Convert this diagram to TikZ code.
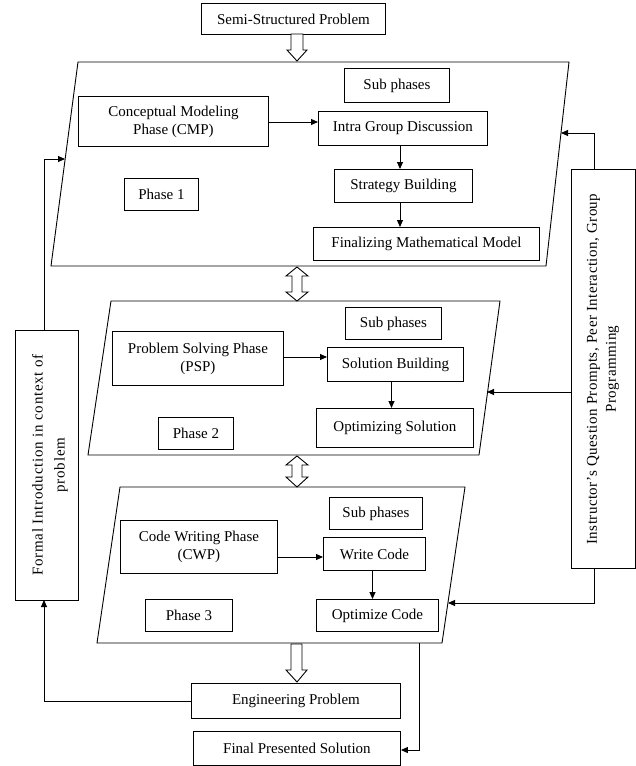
\documentclass[tikz,border=0pt]{standalone}
\usepackage{fontspec}
\setmainfont{Liberation Serif}
\usetikzlibrary{arrows.meta}
\begin{document}
\begin{tikzpicture}[x=1pt,y=-1pt,
  every node/.style={font=\fontsize{15}{18}\selectfont},
  box/.style={draw,line width=0.9pt,anchor=north west,align=center,inner sep=1pt},
  conn/.style={line width=0.9pt,-{Triangle[length=7pt,width=6pt]}},
  plain/.style={line width=0.9pt},
  para/.style={draw,line width=0.9pt},
  hollow/.style={draw,line width=0.9pt,fill=white}]
\useasboundingbox (0,0) rectangle (636,766);
% parallelograms
\draw[para] (78,62) -- (569,62) -- (546,266) -- (51,266) -- cycle;
\draw[para] (111,301) -- (500,301) -- (479,455) -- (88,455) -- cycle;
\draw[para] (120,487) -- (465,487) -- (442,643) -- (97,643) -- cycle;
\coordinate (p1L) at (65,159);
\coordinate (p1R) at (561,133);
\coordinate (p2R) at (487,392);
\coordinate (p3R) at (448,603);
\coordinate (p3B) at (419,643);
% boxes
\node[box,minimum width=184,minimum height=31] (semi) at (201,3) {Semi-Structured Problem};
\node[box,minimum width=105,minimum height=34] (sub1) at (344,68) {Sub phases};
\node[box,minimum width=190,minimum height=50] (cmp) at (78,96) {Conceptual Modeling\\Phase (CMP)};
\node[box,minimum width=169,minimum height=34] (intra) at (318,111) {Intra Group Discussion};
\node[box,minimum width=138,minimum height=33] (strat) at (334,169) {Strategy Building};
\node[box,minimum width=74,minimum height=32] (ph1) at (124,178) {Phase 1};
\node[box,minimum width=226,minimum height=33] (fin) at (313,227) {Finalizing Mathematical Model};
\node[box,minimum width=96,minimum height=32] (sub2) at (345,307) {Sub phases};
\node[box,minimum width=171,minimum height=54] (psp) at (112,331) {Problem Solving Phase\\(PSP)};
\node[box,minimum width=136,minimum height=34] (solb) at (327,347) {Solution Building};
\node[box,minimum width=157,minimum height=39] (opts) at (316,408) {Optimizing Solution};
\node[box,minimum width=75,minimum height=32] (ph2) at (158,417) {Phase 2};
\node[box,minimum width=93,minimum height=32] (sub3) at (329,497) {Sub phases};
\node[box,minimum width=157,minimum height=53] (cwp) at (120,520) {Code Writing Phase\\(CWP)};
\node[box,minimum width=102,minimum height=33] (wc) at (323,537) {Write Code};
\node[box,minimum width=122,minimum height=32] (oc) at (316,599) {Optimize Code};
\node[box,minimum width=87,minimum height=32] (ph3) at (145,599) {Phase 3};
\node[box,minimum width=209,minimum height=35] (eng) at (191,683) {Engineering Problem};
\node[box,minimum width=207,minimum height=34] (fps) at (193,731) {Final Presented Solution};
% side boxes
\draw[plain] (15,330) rectangle (78,600);
\node[rotate=90,align=center,font=\fontsize{15}{22}\selectfont\addfontfeatures{LetterSpace=5}] (formaltxt) at (50,465) {Formal Introduction in context of\\problem};
\draw[plain] (571,169) rectangle (635,568);
\node[rotate=90,align=center,font=\fontsize{15}{19}\selectfont\addfontfeatures{LetterSpace=3}] (instrtxt) at (603,369) {Instructor’s Question Prompts, Peer Interaction, Group\\Programming};
\coordinate (formalT) at (44,330);
\coordinate (formalB) at (44,600);
\coordinate (instrT) at (594,169);
\coordinate (instrL) at (571,392);
\coordinate (instrB) at (594,568);
% internal arrows
\draw[conn] (cmp.east |- 0,122) -- (intra.west |- 0,122);
\draw[conn] (intra.south -| 400,0) -- (strat.north -| 400,0);
\draw[conn] (strat.south -| 400,0) -- (fin.north -| 400,0);
\draw[conn] (psp.east |- 0,357) -- (solb.west |- 0,357);
\draw[conn] (solb.south -| 391.5,0) -- (opts.north -| 391.5,0);
\draw[conn] (cwp.east |- 0,557) -- (wc.west |- 0,557);
\draw[conn] (wc.south -| 372.5,0) -- (oc.north -| 372.5,0);
% feedback arrows
\draw[conn] (formalT) |- (p1L);
\draw[conn] (instrT) |- (p1R);
\draw[conn] (instrL) -- (p2R);
\draw[conn] (instrB) |- (p3R);
\draw[conn] (eng.west) -| (formalB);
\draw[conn] (p3B) |- (fps.east |- 0,750);
% hollow arrows
\draw[hollow] (291,34) -- (303,34) -- (303,50) -- (307,50) -- (297,61) -- (287,50) -- (291,50) -- cycle;
\draw[hollow] (297,267) -- (308,276) -- (302,276) -- (302,292) -- (308,292) -- (297,301) -- (286,292) -- (292,292) -- (292,276) -- (286,276) -- cycle;
\draw[hollow] (297,456) -- (308,465) -- (302,465) -- (302,477) -- (308,477) -- (297,487) -- (286,477) -- (292,477) -- (292,465) -- (286,465) -- cycle;
\draw[hollow] (291,644) -- (302,644) -- (302,670) -- (307,670) -- (297,682) -- (286,670) -- (291,670) -- cycle;
\end{tikzpicture}
\end{document}
